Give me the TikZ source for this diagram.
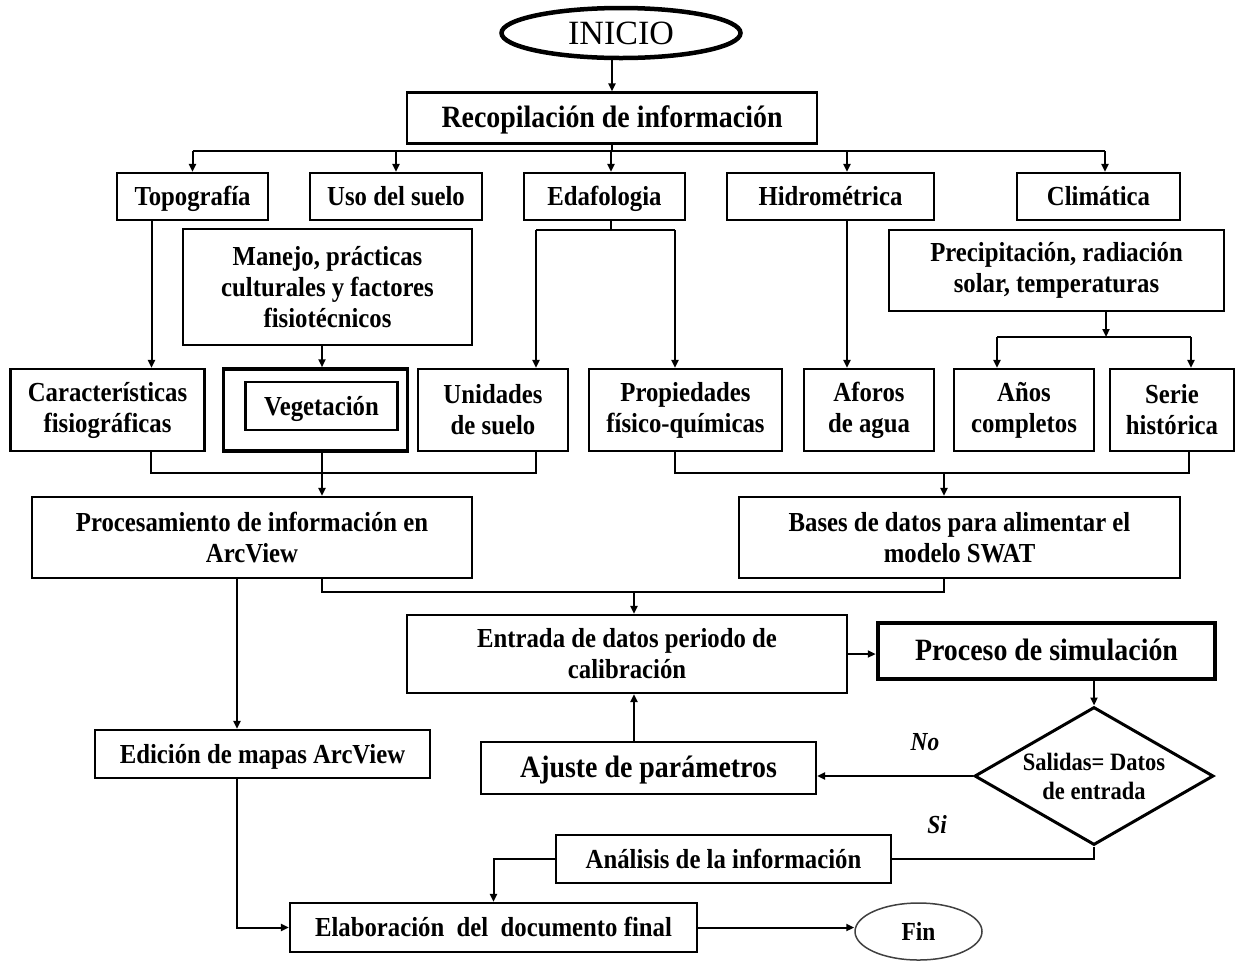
\documentclass[tikz,border=0pt]{standalone}
\usepackage{fontspec}
\setmainfont{Liberation Serif}[FakeStretch=0.9]
\newfontfamily\plainfont{Liberation Serif}
\usetikzlibrary{arrows.meta,shapes.geometric}
\tikzset{
  box/.style={draw, line width=2.2pt, align=center, inner sep=0pt,
    font=\bfseries\fontsize{27.5}{31}\selectfont},
  one/.style={text height=24pt, text depth=6pt},
  big/.style={font=\bfseries\fontsize{31}{34}\selectfont},
  conn/.style={line width=2pt},
  arr/.style={line width=2pt, -{Triangle[length=8pt,width=7pt]}},
  lbl/.style={font=\bfseries\itshape\fontsize{26}{28}\selectfont}
}
\begin{document}
\begin{tikzpicture}[x=1pt,y=-1pt]
\useasboundingbox (0,0) rectangle (1238,962);
% start
\node[draw, ellipse, line width=4.5pt, minimum width=239pt, minimum height=50pt, inner sep=0pt,
  font=\plainfont\fontsize{34}{36}\selectfont] (inicio) at (621,33) {INICIO};
\node[box, one, big, minimum width=410pt, minimum height=51pt] (recop) at (612,118) {Recopilación de información};
% row 2
\node[box, one, minimum width=151pt, minimum height=47pt] (topo) at (192.5,196.5) {Topografía};
\node[box, one, minimum width=172pt, minimum height=47pt] (uso) at (396,196.5) {Uso del suelo};
\node[box, one, minimum width=161pt, minimum height=47pt] (edaf) at (604.5,196.5) {Edafologia};
\node[box, one, minimum width=207pt, minimum height=47pt] (hidro) at (830.5,196.5) {Hidrométrica};
\node[box, one, minimum width=163pt, minimum height=47pt] (clima) at (1098.5,196.5) {Climática};
% intermediate
\node[box, minimum width=289pt, minimum height=116pt] (manejo) at (327.5,287) {Manejo, prácticas\\culturales y factores\\fisiotécnicos};
\node[box, minimum width=335pt, minimum height=81pt] (precip) at (1056.5,270.5) {Precipitación, radiación\\solar, temperaturas};
% row 3
\node[box, minimum width=194pt, minimum height=82pt] (caract) at (107.5,410) {Características\\fisiográficas};
\node[box, line width=3.5pt, minimum width=184pt, minimum height=82pt] (vego) at (315.5,410) {};
\node[box, one, minimum width=152pt, minimum height=48pt] (vegi) at (321.5,406) {Vegetación};
\node[box, minimum width=150pt, minimum height=82pt] (unid) at (493,410) {Unidades\\de suelo};
\node[box, minimum width=193pt, minimum height=82pt] (prop) at (685.5,410) {Propiedades\\físico-químicas};
\node[box, minimum width=130pt, minimum height=82pt] (afor) at (869,410) {Aforos\\de agua};
\node[box, minimum width=140pt, minimum height=82pt] (anos) at (1024,410) {Años\\completos};
\node[box, minimum width=124pt, minimum height=82pt] (serie) at (1172,410) {Serie\\histórica};
% processing
\node[box, minimum width=440pt, minimum height=81pt] (proc) at (252,537.5) {Procesamiento de información en\\ArcView};
\node[box, minimum width=441pt, minimum height=81pt] (bases) at (959.5,537.5) {Bases de datos para alimentar el\\modelo SWAT};
\node[box, minimum width=440pt, minimum height=78pt] (entrada) at (627,654) {Entrada de datos periodo de\\calibración};
\node[box, one, big, line width=4.5pt, minimum width=337pt, minimum height=56pt] (proceso) at (1046.5,651) {Proceso de simulación};
\node[draw, diamond, aspect=1.73, line width=3pt, minimum width=239pt, minimum height=138pt, inner sep=0pt, align=center,
  font=\bfseries\fontsize{25}{29}\selectfont] (dia) at (1094,776) {Salidas= Datos\\de entrada};
\node[box, one, big, minimum width=335pt, minimum height=52pt] (ajuste) at (648.5,768) {Ajuste de parámetros};
\node[box, one, minimum width=335pt, minimum height=48pt] (edicion) at (262.5,754) {Edición de mapas ArcView};
\node[box, one, minimum width=335pt, minimum height=48pt] (analisis) at (723.5,859) {Análisis de la información};
\node[box, one, minimum width=407pt, minimum height=49pt] (elab) at (493.5,927.5) {Elaboración\ \ del\ \ documento final};
\node[draw=black!75, ellipse, line width=1.5pt, minimum width=127pt, minimum height=57pt, inner sep=0pt,
  font=\bfseries\fontsize{26}{28}\selectfont] (fin) at (918.5,931.5) {Fin};
\node[lbl] (no) at (925,742) {No};
\node[lbl] (si) at (937,825) {Si};
% coordinates
\coordinate (busL) at (192.5,151);
\coordinate (busR) at (1105,151);
\coordinate (eL) at (536,230);
\coordinate (eR) at (675,230);
\coordinate (pj) at (1106,337);
\coordinate (pL) at (997,337);
\coordinate (pR) at (1191,337);
\coordinate (lj) at (322,473);
\coordinate (rj) at (944,473);
\coordinate (mj) at (634,592);
% connectors
\draw[arr] (inicio.south -| recop.north) -- (recop.north);
\draw[conn] (recop.south) -- (recop.south |- busL);
\draw[conn] (busL) -- (busR);
\draw[arr] (busL) -- (topo.north);
\draw[arr] (busL -| uso.north) -- (uso.north);
\draw[arr] ([xshift=6.5pt]edaf.north |- busL) -- ([xshift=6.5pt]edaf.north);
\draw[arr] ([xshift=16.5pt]hidro.north |- busL) -- ([xshift=16.5pt]hidro.north);
\draw[arr] (busR) -- (busR |- clima.north);
% down to row 3
\draw[arr] ([xshift=-41pt]topo.south) -- ([xshift=-41pt]topo.south |- caract.north);
\draw[arr] ([xshift=-5.5pt]manejo.south) -- ([xshift=-5.5pt]manejo.south |- vego.north);
\draw[conn] ([xshift=6.5pt]edaf.south) -- ([xshift=6.5pt]edaf.south |- eL);
\draw[conn] (eL) -- (eR);
\draw[arr] (eL) -- (eL |- unid.north);
\draw[arr] (eR) -- (eR |- prop.north);
\draw[arr] ([xshift=16.5pt]hidro.south) -- ([xshift=16.5pt]hidro.south |- afor.north);
\draw[arr] (pj |- precip.south) -- (pj);
\draw[conn] (pL) -- (pR);
\draw[arr] (pL) -- (pL |- anos.north);
\draw[arr] (pR) -- (pR |- serie.north);
% joins
\draw[conn] ([xshift=43.5pt]caract.south) |- (lj);
\draw[conn] (unid.south -| eL) |- (lj);
\draw[conn] (vego.south -| lj) -- (lj);
\draw[arr] (lj) -- (lj |- proc.north);
\draw[conn] (prop.south -| eR) |- (rj);
\draw[conn] ([xshift=17pt]serie.south) |- (rj);
\draw[arr] (rj) -- (rj |- bases.north);
\draw[conn] (proc.south -| lj) |- (mj);
\draw[conn] (bases.south -| rj) |- (mj);
\draw[arr] (mj) -- (mj |- entrada.north);
% lower flow
\draw[arr] ([xshift=-15pt]proc.south) -- ([xshift=-15pt]proc.south |- edicion.north);
\draw[arr] ([xshift=-25.5pt]edicion.south) |- (elab.west);
\draw[arr] (entrada.east) -- (entrada.east -| proceso.west);
\draw[arr] (proceso.south -| dia.north) -- (dia.north);
\draw[arr] (dia.west) -- (dia.west -| ajuste.east);
\draw[arr] (ajuste.north -| mj) -- (entrada.south -| mj);
\draw[conn] (dia.south) |- (analisis.east);
\draw[arr] (analisis.west) -| (elab.north);
\draw[arr] (elab.east) -- (elab.east -| fin.west);
\end{tikzpicture}
\end{document}
